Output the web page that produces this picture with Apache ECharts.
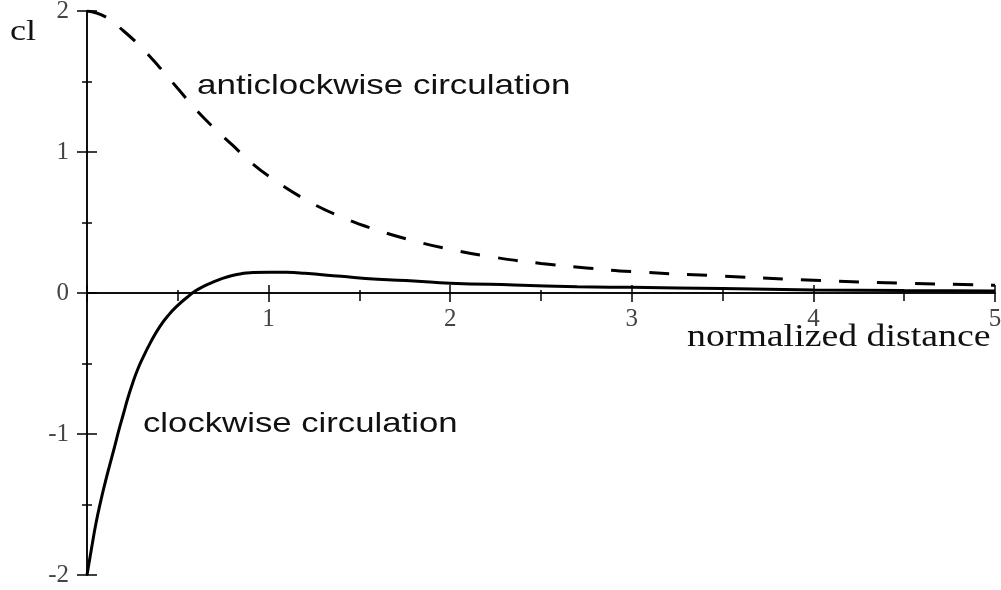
<!DOCTYPE html>
<html>
<head>
<meta charset="utf-8">
<script src="https://cdn.jsdelivr.net/npm/echarts@6/dist/echarts.min.js"></script>
<style>
  html, body { margin: 0; padding: 0; background: #fff; }
  #chart { width: 1001px; height: 590px; }
</style>
</head>
<body>
<div id="chart"></div>
<script>
// clockwise circulation (solid)
const cwX = [0, 0.025, 0.05, 0.075, 0.1, 0.125, 0.15, 0.175, 0.2, 0.225, 0.25, 0.275, 0.3, 0.35, 0.4, 0.45, 0.5, 0.55, 0.6, 0.65, 0.7, 0.75, 0.8, 0.85, 0.9, 1.0, 1.1, 1.2, 1.4, 1.6, 1.8, 2.0, 2.35, 2.7, 3.0, 3.5, 4.0, 4.5, 5.0];
const cwY = [-2.0, -1.81, -1.63, -1.48, -1.345, -1.22, -1.10, -0.975, -0.86, -0.745, -0.645, -0.555, -0.48, -0.35, -0.24, -0.155, -0.088, -0.032, 0.017, 0.052, 0.08, 0.105, 0.124, 0.137, 0.144, 0.148, 0.147, 0.14, 0.118, 0.098, 0.085, 0.07, 0.057, 0.045, 0.04, 0.032, 0.022, 0.018, 0.015];

// anticlockwise circulation (dashed)
const acwX = [0, 0.1, 0.2, 0.3, 0.4, 0.5, 0.6, 0.7, 0.8, 0.9, 1.0, 1.2, 1.4, 1.6, 1.8, 2.0, 2.25, 2.5, 2.75, 3.0, 3.5, 4.0, 4.5, 5.0];
const acwY = [2.0, 1.96, 1.86, 1.74, 1.60, 1.45, 1.30, 1.17, 1.05, 0.93, 0.83, 0.665, 0.54, 0.445, 0.37, 0.31, 0.252, 0.21, 0.178, 0.152, 0.12, 0.09, 0.07, 0.055];

const xLabels = ['1', '2', '3', '4', '5'];
const yLabels = ['-2', '-1', '0', '1', '2'];

function zip(xs, ys) {
  return xs.map(function (x, i) { return [x, ys[i]]; });
}

const chart = echarts.init(document.getElementById('chart'));

const tickFont = { fontFamily: '"Liberation Serif", serif', fontSize: 25, color: '#444' };
const lineStyle = { color: '#000', width: 1.5 };

function yAxisCfg(pos, showLabel) {
  return {
    type: 'value', gridIndex: 0, position: pos, min: -2, max: 2, interval: 1,
    axisLine: { show: true, onZero: true, onZeroAxisIndex: 0, lineStyle: lineStyle },
    axisTick: { show: true, inside: false, length: 10, lineStyle: lineStyle },
    minorTick: { show: true, splitNumber: 2, length: 5, lineStyle: lineStyle },
    splitLine: { show: false },
    axisLabel: Object.assign({
      show: showLabel, margin: 18,
      formatter: function (v) { return yLabels[v + 2]; }
    }, tickFont)
  };
}

function label(text, x, y, size, family, sx) {
  return {
    type: 'text', x: x, y: y, scaleX: sx,
    style: {
      text: text, font: size + 'px ' + family, fill: '#111',
      align: 'left', verticalAlign: 'middle',
      textAlign: 'left', textVerticalAlign: 'middle'
    }
  };
}

const option = {
  animation: false,
  backgroundColor: '#fff',
  grid: [
    { left: 87, right: 6, top: 11, bottom: 15, containLabel: false, outerBoundsMode: 'none' },
    // thin strip whose bottom edge sits on y = 0, carries the x tick labels
    { left: 87, right: 6, top: 250, bottom: 297, containLabel: false, outerBoundsMode: 'none' }
  ],
  xAxis: [
    {
      type: 'value', gridIndex: 0, position: 'top', min: 0, max: 5, interval: 1,
      axisLine: { show: true, onZero: true, onZeroAxisIndex: 0, lineStyle: lineStyle },
      axisTick: { show: true, length: 8, lineStyle: lineStyle },
      minorTick: { show: true, splitNumber: 2, length: 3, lineStyle: lineStyle },
      splitLine: { show: false },
      axisLabel: { show: false }
    },
    {
      type: 'value', gridIndex: 1, position: 'bottom', min: 0, max: 5, interval: 1,
      axisLine: { show: true, onZero: false, lineStyle: lineStyle },
      axisTick: { show: true, length: 9, lineStyle: lineStyle },
      minorTick: { show: true, splitNumber: 2, length: 8, lineStyle: lineStyle },
      splitLine: { show: false },
      axisLabel: Object.assign({
        show: true, margin: 14,
        formatter: function (v) { return v === 0 ? '' : xLabels[v - 1]; }
      }, tickFont)
    }
  ],
  yAxis: [
    yAxisCfg('left', true),
    yAxisCfg('right', false),
    { type: 'value', gridIndex: 1, min: 0, max: 1, show: false }
  ],
  graphic: [
    label('cl', 10, 32, 30, '"Liberation Serif", serif', 1.2),
    label('normalized distance', 687, 338, 31, '"Liberation Serif", serif', 1.22),
    label('anticlockwise circulation', 197, 86, 28, '"Liberation Sans", Arial, sans-serif', 1.25),
    label('clockwise circulation', 143, 424, 28, '"Liberation Sans", Arial, sans-serif', 1.24)
  ],
  series: [
    {
      name: 'anticlockwise circulation',
      type: 'line', xAxisIndex: 0, yAxisIndex: 0,
      data: zip(acwX, acwY),
      smooth: true, showSymbol: false, symbol: 'none',
      lineStyle: { color: '#000', width: 3, type: [20, 18] }
    },
    {
      name: 'clockwise circulation',
      type: 'line', xAxisIndex: 0, yAxisIndex: 0,
      data: zip(cwX, cwY),
      smooth: true, showSymbol: false, symbol: 'none',
      lineStyle: { color: '#000', width: 3 }
    }
  ]
};

chart.setOption(option);
</script>
</body>
</html>
